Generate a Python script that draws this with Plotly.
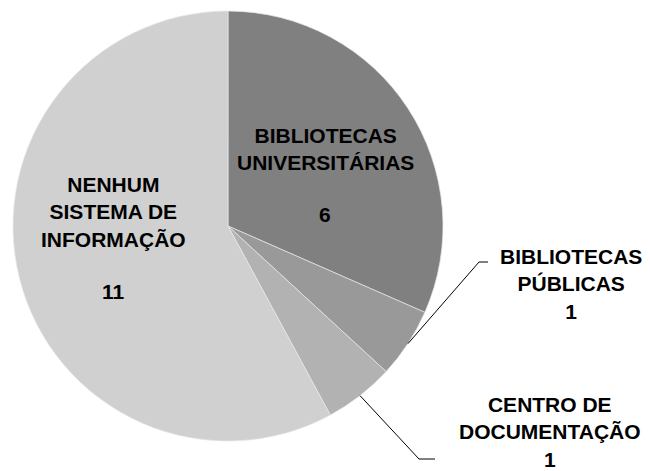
import math
import plotly.graph_objects as go

labels = ["BIBLIOTECAS<br>UNIVERSITÁRIAS", "BIBLIOTECAS<br>PÚBLICAS",
          "CENTRO DE<br>DOCUMENTAÇÃO", "NENHUM<br>SISTEMA DE<br>INFORMAÇÃO"]
values = [6, 1, 1, 11]
colors = ["#808080", "#999999", "#b2b2b2", "#d0d0d0"]

W, H = 650, 471
OFF = 8  # page body margin in the rendered html
cx, cy, r = 228, 226, 215


def px(x, y):
    # reference pixel -> paper coords
    return (x - OFF) / W, 1 - (y - OFF) / H


(dx0, dy1), (dx1, dy0) = px(cx - r, cy - r), px(cx + r, cy + r)

fig = go.Figure(go.Pie(
    labels=labels,
    values=values,
    sort=False,
    direction="clockwise",
    rotation=0,
    marker=dict(colors=colors, line=dict(color="#e8e8e8", width=0.7)),
    textinfo="none",
    hoverinfo="label+value",
    domain=dict(x=[dx0, dx1], y=[dy0, dy1]),
    showlegend=False,
))

font = dict(family="Liberation Sans", size=21, color="black", weight="bold")

# label positions (pixel centres): label block y, value y
inside = {0: (325, 149, 214), 3: (113, 212, 291)}
# outside labels: centre x, block centre y, leader elbow, leader end
outside = {1: (571, 284, (479, 262), (488, 262)),
           2: (550, 432, (419, 459), (435, 459))}

total = sum(values)
cum = 0
for i, (lab, v) in enumerate(zip(labels, values)):
    mid = (cum + v / 2) / total * 2 * math.pi
    cum += v
    if i in outside:
        lx, ly, elbow, end = outside[i]
        sx, sy = cx + r * math.sin(mid), cy - r * math.cos(mid)
        x0, y0 = px(sx, sy)
        x1, y1 = px(*elbow)
        x2, y2 = px(*end)
        fig.add_shape(type="line", xref="paper", yref="paper", x0=x0, y0=y0, x1=x1, y1=y1,
                      line=dict(color="black", width=1))
        fig.add_shape(type="line", xref="paper", yref="paper", x0=x1, y0=y1, x1=x2, y1=y2,
                      line=dict(color="black", width=1))
        ax, ay = px(lx, ly)
        fig.add_annotation(x=ax, y=ay, xref="paper", yref="paper", showarrow=False,
                           xanchor="center", yanchor="middle",
                           text=f"{lab}<br>{v}", font=font, align="center")
    else:
        lx, ly, vy = inside[i]
        ax, ay = px(lx, ly)
        fig.add_annotation(x=ax, y=ay, xref="paper", yref="paper", showarrow=False,
                           xanchor="center", yanchor="middle",
                           text=lab, font=font, align="center")
        ax, ay = px(lx, vy)
        fig.add_annotation(x=ax, y=ay, xref="paper", yref="paper", showarrow=False,
                           xanchor="center", yanchor="middle",
                           text=str(v), font=font, align="center")

fig.update_layout(
    width=W, height=H,
    margin=dict(l=0, r=0, t=0, b=0),
    paper_bgcolor="white",
    plot_bgcolor="white",
)

fig.write_html("out.html")
